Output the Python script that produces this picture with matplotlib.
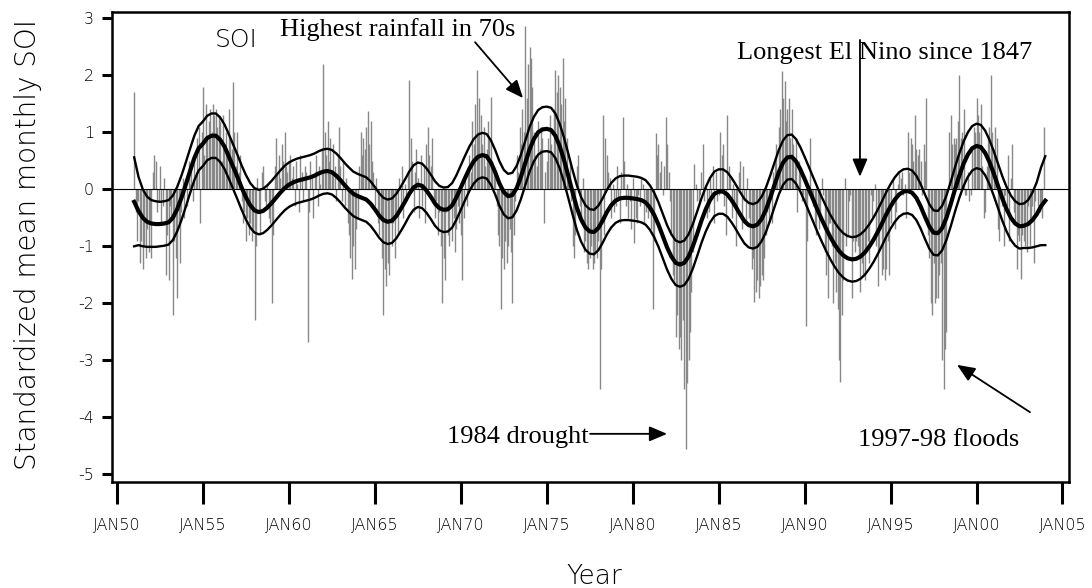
import numpy as np
import matplotlib.pyplot as plt

plt.rcParams['axes.unicode_minus'] = False
sans = ['DejaVu Sans']
serif = ['Liberation Serif', 'DejaVu Serif']

# Standardized monthly SOI, Jan 1951 - Dec 2003 (one row per year)
soi_1951_1960 = [
    1.7, -0.4, -0.9, -0.2, -1.3, -0.9, -1.4, -1.0, -1.2, -0.7, -1.1, -0.6,
    -1.2, 0.3, 0.6, 0.5, -0.4, -0.2, 0.4, -0.6, -0.3, 0.2, -1.5, -0.8,
    -1.6, -0.3, -0.5, -2.2, -0.9, -1.2, -1.9, -0.6, -1.3, -0.4, 0.2, -0.5,
    0.2, -0.3, 0.5, 0.1, 0.4, -0.2, 0.6, 0.3, 0.9, 1.1, -0.6, 1.0,
    1.8, 0.6, 1.5, 0.9, 1.2, 1.4, 1.0, 1.5, 1.3, 1.4, 1.1, 1.3,
    1.2, 0.5, 1.3, 0.8, 1.0, 0.6, 1.4, 0.9, 0.7, 1.88, 1.0, 0.4,
    1.0, 0.3, 0.6, -0.2, -0.6, -0.4, -0.9, -0.5, -0.8, -0.6, -0.9, -0.7,
    -2.3, -1.0, 0.2, -0.4, -0.8, 0.3, 0.4, -0.2, -0.3, 0.1, -0.5, -0.6,
    -2.0, -0.8, 0.4, 0.9, 0.3, 0.6, 0.2, 0.8, 0.5, 1.0, 0.4, 0.3,
    0.5, 0.6, 0.2, 0.4, -0.3, 0.5, 0.1, -0.4, 0.6, 0.3, -0.2, 0.4,
]
soi_1961_1970 = [
    0.3, -2.68, -0.4, 0.5, 0.2, -0.5, 0.3, 0.6, -0.3, 0.4, 0.1, 0.7,
    2.2, 1.0, 0.6, 1.2, 0.5, 0.9, 0.3, 0.8, 0.4, -0.2, 0.6, 1.1,
    0.4, -0.2, 0.5, -0.3, 0.2, -0.6, -0.8, -1.2, -1.58, -1.0, -1.4, -0.7,
    -0.5, 0.4, 1.0, 0.6, 0.9, 0.7, 1.1, 1.38, 0.8, 1.2, 0.5, 0.3,
    -0.3, 0.2, -0.6, -0.8, -0.5, -1.2, -2.2, -1.4, -1.7, -1.3, -1.5, -0.6,
    -1.0, -0.6, -1.2, -0.4, -0.8, 0.2, -0.3, 0.4, -0.5, 0.1, -0.2, 0.3,
    1.91, 0.9, 0.5, -0.4, 0.3, 0.7, 0.2, -0.5, 0.6, -0.3, 0.4, -0.6,
    0.8, 1.1, 0.6, 0.4, 0.9, -0.3, -0.5, -0.2, -0.8, -0.4, -1.0, -2.0,
    -1.2, -1.6, -0.4, -0.8, -1.0, -0.3, -0.9, -0.5, -1.1, -0.7, -0.3, -0.6,
    -0.8, -1.6, -0.5, 0.2, -0.3, 0.4, 0.6, 0.3, 1.2, 0.8, 1.5, 2.1,
]
soi_1971_1980 = [
    1.0, 1.6, 1.3, 0.8, 1.1, 0.4, 0.7, 1.2, 0.9, 1.62, 0.5, 0.3,
    0.2, -0.3, -0.8, -1.0, -2.1, -1.2, -1.4, -0.9, -1.3, -1.0, -0.7, -1.1,
    -2.0, -0.8, -0.2, 0.6, 0.3, 1.1, 0.8, 1.4, 1.0, 2.87, 1.6, 2.2,
    2.5, 2.3, 1.8, 1.0, 0.6, 0.4, 1.2, 0.7, 1.1, 0.9, -0.6, 0.3,
    0.5, 0.9, 1.3, 0.8, 0.6, 1.4, 2.09, 1.7, 2.0, 1.8, 1.5, 2.3,
    1.2, 1.6, 0.9, 0.3, 0.5, -0.2, -1.0, -1.2, -0.8, 0.4, 0.6, -0.3,
    -0.6, 0.2, -1.1, -0.9, -1.3, -1.4, -1.2, -1.0, -1.4, -1.3, -1.1, -1.2,
    -0.9, -3.5, -1.4, 1.3, -0.8, 0.9, 0.6, 0.3, 0.2, -0.5, 0.1, -0.4,
    -0.3, 0.4, -0.2, -0.6, 0.3, 1.27, 0.5, -0.3, 0.1, -0.5, -0.2, -0.7,
    0.2, -0.95, -0.5, -0.6, -0.1, -0.3, 0.2, 0.1, -0.6, -0.4, -0.2, -0.5,
]
soi_1981_1990 = [
    -0.4, -0.7, -2.1, -0.9, 0.99, 0.6, 0.8, 0.3, 0.5, -0.1, 0.4, 1.27,
    0.8, 0.3, -0.2, -0.8, -1.5, -1.6, -2.6, -2.2, -2.8, -2.6, -3.0, -2.3,
    -3.5, -4.55, -3.4, -3.0, -2.5, -1.8, -1.1, 0.45, 0.1, -0.2, -0.3, -0.1,
    0.3, 0.8, -0.2, 0.1, -0.5, -0.4, 0.2, -0.1, 0.4, -0.6, 0.3, -0.2,
    -0.1, 1.0, 0.6, 0.8, -0.3, -0.8, 1.3, 0.4, 0.2, -0.5, 0.1, -0.3,
    -1.0, -0.4, 0.3, 0.5, -0.7, 0.4, -0.2, -0.6, 0.2, -0.5, -1.0, -1.4,
    -1.2, -1.98, -1.8, -1.6, -1.9, -1.7, -1.5, -1.6, -1.2, -0.8, -0.4, -0.6,
    -0.1, -0.6, 0.3, 0.5, 0.8, 0.2, 1.1, 1.4, 2.08, 1.6, 1.9, 1.2,
    1.4, 1.6, 0.9, 1.4, 0.8, 0.5, 0.9, -0.4, 0.5, 0.4, -0.2, -0.1,
    -0.2, -2.4, -0.9, -0.1, 0.9, -0.1, -0.3, -0.6, -0.8, -0.3, -0.7, -0.4,
]
soi_1991_2000 = [
    0.2, -0.1, -1.1, -1.5, -1.9, -0.6, -0.6, -1.0, -2.0, -1.3, -1.8, -2.1,
    -3.0, -3.38, -2.2, -1.6, 0.2, -1.0, -0.8, -0.2, -0.1, -1.9, -0.9, -1.1,
    -0.9, -1.0, -1.2, -1.8, -1.3, -1.5, -1.6, -1.1, -0.9, -1.3, -0.1, -0.5,
    -0.2, 0.1, -1.0, -1.7, -1.1, -0.7, -1.5, -1.4, -1.6, -1.4, -0.9, -1.5,
    -0.6, 0.0, 0.2, -0.7, -0.4, 0.1, 0.3, 0.2, 0.3, -0.1, 0.1, -0.5,
    1.0, 0.3, 0.9, 0.8, 0.5, 1.3, 0.7, 0.6, 0.7, 0.5, -0.1, 0.8,
    0.5, 1.6, -0.8, -1.2, -2.0, -2.2, -1.3, -2.0, -1.9, -1.9, -1.5, -1.3,
    -3.0, -3.5, -2.8, -2.5, 0.0, 1.0, 1.3, 0.8, 0.9, 0.8, 0.9, 1.2,
    2.0, 0.9, 1.0, 1.4, -0.1, -0.1, 0.3, -0.2, -0.1, 0.7, 1.1, 1.0,
    1.6, 1.3, 1.0, 1.5, 0.4, -0.5, -0.4, 0.4, 0.9, 1.1, 2.0, 1.0,
]
soi_2001_2003 = [
    0.7, 1.1, 0.9, -0.7, -0.9, -0.1, -0.3, -1.0, -0.1, -0.3, 0.6, -0.9,
    0.2, 0.8, -0.4, -0.6, -1.4, -0.8, -0.9, -1.58, -0.8, -0.9, -1.0, -1.1,
    -0.3, -1.0, -0.6, -0.3, -1.3, -0.2, 0.0, -0.3, -0.4, -0.3, -0.5, 1.1,
]

# Smoothed SOI, quarterly from 1951.00 to 2004.00
soi_smooth = [
    -0.22, -0.38, -0.50, -0.57,   # 1951
    -0.60, -0.61, -0.61, -0.60,
    -0.58, -0.50, -0.35, -0.15,
    0.08, 0.32, 0.55, 0.72,
    0.80, 0.90, 0.94, 0.94,       # 1955
    0.87, 0.75, 0.58, 0.40,
    0.22, 0.03, -0.14, -0.28,
    -0.37, -0.40, -0.38, -0.32,
    -0.24, -0.15, -0.06, 0.02,
    0.08, 0.12, 0.15, 0.17,       # 1960
    0.19, 0.21, 0.24, 0.28,
    0.31, 0.32, 0.30, 0.24,
    0.16, 0.07, -0.01, -0.08,
    -0.12, -0.15, -0.18, -0.25,
    -0.35, -0.46, -0.54, -0.57,   # 1965
    -0.55, -0.47, -0.35, -0.22,
    -0.08, 0.03, 0.08, 0.06,
    -0.02, -0.13, -0.25, -0.33,
    -0.36, -0.35, -0.28, -0.14,
    0.03, 0.20, 0.36, 0.49,       # 1970
    0.57, 0.60, 0.58, 0.47,
    0.30, 0.10, -0.05, -0.12,
    -0.10, 0.02, 0.22, 0.46,
    0.70, 0.88, 1.00, 1.05,
    1.06, 1.04, 0.94, 0.76,       # 1975
    0.52, 0.24, -0.05, -0.32,
    -0.53, -0.67, -0.74, -0.75,
    -0.68, -0.55, -0.40, -0.28,
    -0.20, -0.16, -0.15, -0.15,
    -0.16, -0.17, -0.19, -0.23,   # 1980
    -0.32, -0.45, -0.62, -0.82,
    -1.02, -1.18, -1.29, -1.32,
    -1.29, -1.18, -1.00, -0.78,
    -0.55, -0.35, -0.19, -0.08,
    -0.04, -0.04, -0.09, -0.19,   # 1985
    -0.31, -0.44, -0.56, -0.63,
    -0.65, -0.62, -0.52, -0.36,
    -0.15, 0.08, 0.30, 0.47,
    0.56, 0.57, 0.49, 0.35,
    0.18, 0.00, -0.18, -0.36,     # 1990
    -0.53, -0.69, -0.84, -0.97,
    -1.08, -1.16, -1.21, -1.23,
    -1.22, -1.18, -1.11, -1.01,
    -0.89, -0.75, -0.60, -0.44,
    -0.30, -0.18, -0.09, -0.04,   # 1995
    -0.03, -0.06, -0.15, -0.30,
    -0.48, -0.65, -0.76, -0.77,
    -0.68, -0.50, -0.26, 0.00,
    0.24, 0.45, 0.61, 0.72,
    0.76, 0.74, 0.64, 0.48,       # 2000
    0.28, 0.06, -0.16, -0.35,
    -0.50, -0.60, -0.65, -0.64,
    -0.61, -0.54, -0.44, -0.30,
    -0.20,                        # 2004
]
# half width of the band around the smoothed curve (wider at both ends)
band_half = [0.78, 0.60, 0.50, 0.44, 0.41, 0.40] + [0.39] * 202 + [0.42, 0.48, 0.56, 0.68, 0.78]

tick_years = list(range(1950, 2006, 5))
tick_labels = ['JAN%02d' % (y % 100) for y in tick_years]

soi = np.concatenate([soi_1951_1960, soi_1961_1970, soi_1971_1980,
                      soi_1981_1990, soi_1991_2000, soi_2001_2003])
months = 1951 + np.arange(len(soi)) / 12.0
smooth = np.array(soi_smooth)
half = np.array(band_half)
t_smooth = 1951 + 0.25 * np.arange(len(smooth))

W, H = 1092, 588
fig = plt.figure(figsize=(W / 100, H / 100), dpi=100)
ax = fig.add_axes([112 / W, 1 - 482 / H, (1069 - 112) / W, (482 - 12) / H])

ax.vlines(months, 0, soi, colors='#888888', linewidth=1.0, zorder=1)
ax.axhline(0, color='k', linewidth=0.8, zorder=2)
ax.plot(t_smooth, smooth + half, color='k', linewidth=1.7, zorder=3)
ax.plot(t_smooth, smooth - half, color='k', linewidth=1.7, zorder=3)
ax.plot(t_smooth, smooth, color='k', linewidth=3.0, zorder=4)

ax.set_xlim(1949.71, 2005.38)
ax.set_ylim(-5.135, 3.11)
ax.set_xticks(tick_years)
ax.set_xticklabels(tick_labels)
ax.set_yticks(range(-5, 4))
ax.tick_params(axis='x', direction='out', length=16, width=2.2, pad=10, labelsize=11.5)
ax.tick_params(axis='y', direction='out', length=7, width=2.2, pad=6, labelsize=11.5)
for lab in ax.get_xticklabels() + ax.get_yticklabels():
    lab.set_family(sans)
    lab.set_fontweight('light')
for sp in ax.spines.values():
    sp.set_linewidth(1.8)

ax.text(1955.7, 2.49, 'SOI', family=sans, fontweight='light', fontsize=18)
fig.text(28 / W, 1 - 245 / H, 'Standardized mean monthly SOI', rotation=90,
         ha='center', va='center', family=sans, fontweight='light', fontsize=20)
fig.text(594 / W, 1 - 576 / H, 'Year', ha='center', va='center',
         family=sans, fontweight='light', fontsize=19)

# annotations
arrow = dict(arrowstyle='-|>,head_length=0.4,head_width=0.17', color='k',
             lw=1.3, mutation_scale=27, shrinkA=0, shrinkB=0)
ax.text(1959.48, 2.69, 'Highest rainfall in 70s', family=serif, fontsize=19)
ax.annotate('', xy=(1973.62, 1.60), xytext=(1970.83, 2.58), arrowprops=arrow)
ax.text(1986.07, 2.29, 'Longest El Nino since 1847', family=serif, fontsize=19)
ax.annotate('', xy=(1993.22, 0.22), xytext=(1993.22, 2.62), arrowprops=arrow)
ax.text(1969.2, -4.45, '1984 drought', family=serif, fontsize=19)
ax.annotate('', xy=(1982.0, -4.29), xytext=(1977.52, -4.29), arrowprops=arrow)
ax.text(1993.1, -4.50, '1997-98 floods', family=serif, fontsize=19)
ax.annotate('', xy=(1998.87, -3.08), xytext=(2003.11, -3.91), arrowprops=arrow)

fig.savefig('out.png', dpi=100)
